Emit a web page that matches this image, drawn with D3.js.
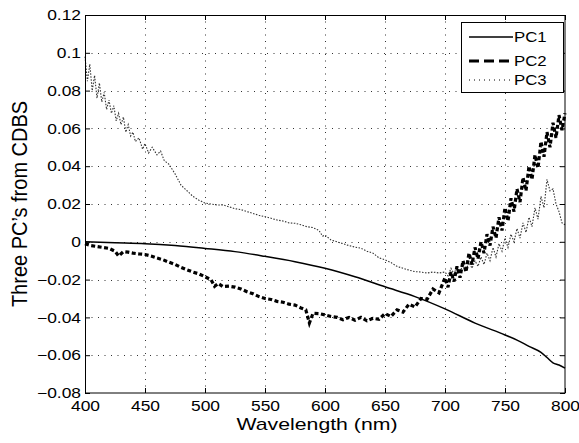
<!DOCTYPE html>
<html>
<head>
<meta charset="utf-8">
<script src="https://cdn.jsdelivr.net/npm/d3@7"></script>
<style>
  body { margin: 0; background: #fff; }
  svg { display: block; font-family: "Liberation Sans", Arial, sans-serif; }
  .tickTxt { font-size: 14.5px; fill: #000; }
</style>
</head>
<body>
<div id="chart"></div>
<script>
// ticks
var xTicks = [400, 450, 500, 550, 600, 650, 700, 750, 800];
var yTicks = [-0.08, -0.06, -0.04, -0.02, 0, 0.02, 0.04, 0.06, 0.08, 0.1, 0.12];
var yTickLabels = ["\u22120.08", "\u22120.06", "\u22120.04", "\u22120.02", "0", "0.02", "0.04", "0.06", "0.08", "0.1", "0.12"];
var seriesNames = ["PC1", "PC2", "PC3"];

// PC1 - smooth
var pc1 = [[400,0],[425,-0.0005],[450,-0.001],[475,-0.002],[500,-0.0035],[525,-0.0052],[550,-0.0077],
  [575,-0.0105],[600,-0.014],[625,-0.0185],[650,-0.0238],[675,-0.029],[700,-0.0355],[725,-0.043],
  [750,-0.0493],[760,-0.052],[770,-0.0553],[780,-0.0585],[785,-0.0612],[790,-0.064],[795,-0.0652],[800,-0.0668]];

// PC2 - dashed, noisy
var pc2 = [[400,-0.001],[405,-0.002],[410,-0.0025],[415,-0.003],[420,-0.0035],[425,-0.005],[428,-0.0075],
  [432,-0.0052],[436,-0.0055],[440,-0.006],[445,-0.0064],[450,-0.0067],[455,-0.0075],[460,-0.0086],
  [465,-0.0095],[470,-0.0108],[475,-0.012],[480,-0.0135],[485,-0.0148],[490,-0.016],[495,-0.017],
  [500,-0.0185],[505,-0.020],[508,-0.0235],[511,-0.022],[515,-0.0237],[520,-0.0235],[525,-0.024],
  [530,-0.025],[535,-0.0264],[540,-0.0275],[545,-0.029],[550,-0.030],[555,-0.0305],[560,-0.0315],
  [565,-0.032],[570,-0.033],[575,-0.0335],[580,-0.035],[584,-0.036],[587,-0.043],[590,-0.0378],
  [595,-0.038],[600,-0.0387],[605,-0.0395],[610,-0.040],[615,-0.0412],[620,-0.040],[625,-0.0415],
  [630,-0.040],[635,-0.0418],[640,-0.0405],[645,-0.041],[650,-0.038],[655,-0.0395],[660,-0.036],
  [665,-0.0372],[670,-0.033],[675,-0.0345],[680,-0.030],[685,-0.0305],[690,-0.025],[695,-0.027],
  [700,-0.019],[702.5,-0.024],[705,-0.016],[707.5,-0.021],[710,-0.013],[712.5,-0.019],[715,-0.010],
  [717.5,-0.016],[720,-0.006],[722.5,-0.012],[725,-0.003],[727.5,-0.009],[730,0.0],[732.5,-0.006],
  [735,0.004],[737.5,-0.002],[740,0.008],[742.5,0.002],[745,0.013],[747.5,0.006],[750,0.018],
  [752.5,0.011],[755,0.023],[757.5,0.016],[760,0.028],[762.5,0.021],[765,0.034],[767.5,0.027],
  [770,0.040],[772.5,0.033],[775,0.046],[777.5,0.039],[780,0.053],[782.5,0.045],[785,0.058],
  [787.5,0.050],[790,0.063],[792.5,0.055],[795,0.067],[797.5,0.059],[800,0.068]];

// PC3 - dotted, noisy
var pc3 = [[400,0.098],[402,0.085],[404,0.094],[406,0.080],[408,0.088],[410,0.076],[412,0.084],
  [414,0.074],[416,0.079],[418,0.070],[420,0.075],[422,0.068],[424,0.072],[426,0.064],[428,0.068],
  [430,0.062],[432,0.066],[434,0.058],[436,0.062],[438,0.056],[440,0.058],[442,0.053],[445,0.055],
  [448,0.049],[450,0.052],[453,0.047],[456,0.050],[460,0.046],[463,0.048],[466,0.043],[470,0.041],
  [475,0.036],[480,0.030],[485,0.027],[490,0.024],[495,0.022],[500,0.0205],[505,0.020],[510,0.0195],
  [515,0.0195],[520,0.0185],[525,0.0175],[530,0.017],[535,0.016],[540,0.015],[545,0.014],[550,0.0133],
  [555,0.0125],[560,0.0115],[565,0.011],[570,0.010],[575,0.0098],[580,0.009],[585,0.008],[590,0.0075],
  [595,0.006],[598,0.003],[600,0.0035],[605,0.001],[610,0.0],[615,-0.001],[620,-0.002],[625,-0.0028],
  [630,-0.0034],[635,-0.005],[640,-0.006],[645,-0.0085],[650,-0.0095],[655,-0.011],[660,-0.013],
  [665,-0.014],[670,-0.015],[675,-0.0158],[680,-0.016],[685,-0.0165],[690,-0.016],[695,-0.0165],
  [700,-0.016],[702.5,-0.018],[705,-0.014],[707.5,-0.017],[710,-0.013],[712.5,-0.016],[715,-0.012],
  [717.5,-0.015],[720,-0.011],[722.5,-0.014],[725,-0.010],[727.5,-0.013],[730,-0.008],[732.5,-0.012],
  [735,-0.006],[737.5,-0.010],[740,-0.003],[742.5,-0.008],[745,-0.001],[747.5,-0.005],[750,0.002],
  [752.5,-0.003],[755,0.004],[757.5,0.0],[760,0.007],[762.5,0.002],[765,0.010],[767.5,0.005],
  [770,0.013],[772.5,0.008],[775,0.018],[777.5,0.012],[780,0.024],[782.5,0.018],[785,0.033],
  [787.5,0.027],[790,0.028],[792.5,0.020],[795,0.016],[797.5,0.010],[800,0.009]];

var W = 579, H = 443;
var margin = {top: 15, right: 14, bottom: 50, left: 85},
    width = W - margin.left - margin.right,
    height = H - margin.top - margin.bottom;
var stretch = 1.2; // glyphs in the picture are wider than tall

var x = d3.scaleLinear().domain([400, 800]).range([0, width]);
var y = d3.scaleLinear().domain([-0.08, 0.12]).range([height, 0]);

var svg = d3.select("#chart").append("svg")
    .attr("width", W).attr("height", H);
var g = svg.append("g")
    .attr("transform", "translate(" + margin.left + "," + margin.top + ")");

// dotted grid
var grid = g.append("g").attr("class", "grid")
    .attr("stroke", "#333").attr("stroke-width", 1).attr("stroke-dasharray", "1,5.5");
grid.selectAll(".vg").data(xTicks.slice(1, -1)).enter().append("line")
    .attr("x1", function(d){ return Math.round(x(d)) + 0.5; })
    .attr("x2", function(d){ return Math.round(x(d)) + 0.5; })
    .attr("y1", 0).attr("y2", height);
grid.selectAll(".hg").data(yTicks.slice(1, -1)).enter().append("line")
    .attr("y1", function(d){ return Math.round(y(d)) + 0.5; })
    .attr("y2", function(d){ return Math.round(y(d)) + 0.5; })
    .attr("x1", 0).attr("x2", width);

var line = d3.line().x(function(d){ return x(d[0]); }).y(function(d){ return y(d[1]); });

g.append("path").datum(pc3)
    .attr("fill", "none").attr("stroke", "#333").attr("stroke-width", 1.1)
    .attr("stroke-dasharray", "1.5,1.5").attr("d", line);
g.append("path").datum(pc1)
    .attr("fill", "none").attr("stroke", "#000").attr("stroke-width", 1.5)
    .attr("d", line.curve(d3.curveMonotoneX));
line.curve(d3.curveLinear);
g.append("path").datum(pc2)
    .attr("fill", "none").attr("stroke", "#000").attr("stroke-width", 3.2)
    .attr("stroke-dasharray", "4,2.5").attr("d", line);

// axes, ticks inside
function stretchText(sel) {
  sel.selectAll("text").each(function(){
    var t = d3.select(this);
    var ax = +t.attr("x") || 0;
    t.attr("transform", "translate(" + ax + ",0) scale(" + stretch + ",1) translate(" + (-ax) + ",0)");
  });
}

var xAxis = g.append("g").attr("transform", "translate(0," + height + ")")
    .call(d3.axisBottom(x).tickValues(xTicks).tickSizeInner(-5).tickSizeOuter(0).tickPadding(8));
var yAxis = g.append("g")
    .call(d3.axisLeft(y).tickValues(yTicks).tickSizeInner(-5).tickSizeOuter(0).tickPadding(4)
      .tickFormat(function(d, i){ return yTickLabels[i]; }));
g.append("g")
    .call(d3.axisTop(x).tickValues(xTicks).tickSizeInner(-5).tickSizeOuter(0).tickFormat(""));
g.append("g").attr("transform", "translate(" + width + ",0)")
    .call(d3.axisRight(y).tickValues(yTicks).tickSizeInner(-5).tickSizeOuter(0).tickFormat(""));

[xAxis, yAxis].forEach(function(a){
  a.selectAll("text").attr("class", "tickTxt").attr("font-size", null).attr("font-family", null);
  stretchText(a);
});
g.selectAll(".domain").remove();
g.selectAll(".tick line").attr("stroke", "#000");

g.append("rect").attr("x", 0.5).attr("y", 0.5)
    .attr("width", width - 0.5).attr("height", height - 0.5)
    .attr("fill", "none").attr("stroke", "#000").attr("stroke-width", 1);

// axis titles
svg.append("text")
    .attr("transform", "translate(317,430) scale(1.25,1)")
    .attr("text-anchor", "middle").attr("font-size", 17).text("Wavelength (nm)");
svg.append("text")
    .attr("transform", "translate(27,204) rotate(-90) scale(1,1.12)")
    .attr("text-anchor", "middle").attr("font-size", 20).text("Three PC\u2019s from CDBS");

// legend
var leg = svg.append("g").attr("transform", "translate(461,22)");
leg.append("rect").attr("x", 0.5).attr("y", 0.5).attr("width", 102).attr("height", 70)
    .attr("fill", "#fff").attr("stroke", "#000");
var legY = [15, 39, 58];
var legStyles = [
  {w: 1.5, dash: null},
  {w: 3, dash: "10,5"},
  {w: 1, dash: "1,4"}
];
seriesNames.forEach(function(name, i){
  leg.append("line").attr("x1", 8).attr("x2", 52).attr("y1", legY[i]).attr("y2", legY[i])
    .attr("stroke", "#000").attr("stroke-width", legStyles[i].w)
    .attr("stroke-dasharray", legStyles[i].dash);
  leg.append("text").attr("transform", "translate(53," + (legY[i] + 5) + ") scale(" + stretch + ",1)")
    .attr("font-size", 14).text(name);
});
</script>
</body>
</html>
